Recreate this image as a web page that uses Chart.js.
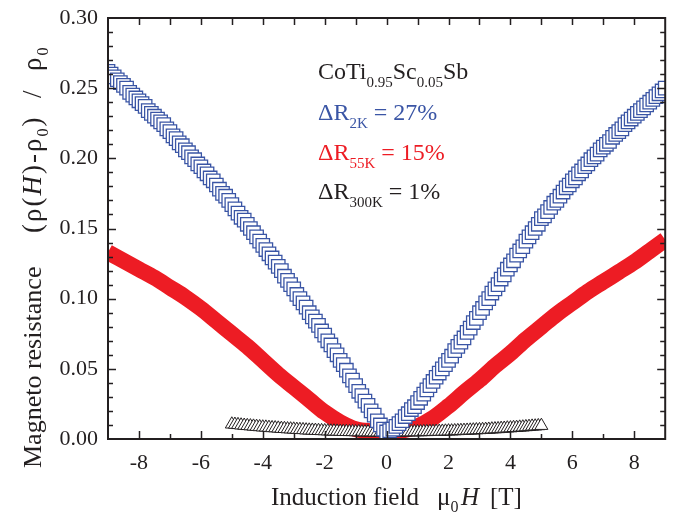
<!DOCTYPE html>
<html>
<head>
<meta charset="utf-8">
<script src="https://cdn.jsdelivr.net/npm/chart.js@4"></script>
<style>
  html, body { margin: 0; padding: 0; background: #fff; }
  canvas { display: block; }
</style>
</head>
<body>
<canvas id="chart" width="676" height="515"></canvas>
<script>
// field values [T] and magnetoresistance
var fieldBlue = [-9,-8.9,-8.8,-8.7,-8.6,-8.5,-8.4,-8.3,-8.2,-8.1,-8,-7.9,-7.8,-7.7,-7.6,-7.5,-7.4,-7.3,-7.2,-7.1,
    -7,-6.9,-6.8,-6.7,-6.6,-6.5,-6.4,-6.3,-6.2,-6.1,-6,-5.9,-5.8,-5.7,-5.6,-5.5,-5.4,-5.3,-5.2,-5.1,
    -5,-4.9,-4.8,-4.7,-4.6,-4.5,-4.4,-4.3,-4.2,-4.1,-4,-3.9,-3.8,-3.7,-3.6,-3.5,-3.4,-3.3,-3.2,-3.1,
    -3,-2.9,-2.8,-2.7,-2.6,-2.5,-2.4,-2.3,-2.2,-2.1,-2,-1.9,-1.8,-1.7,-1.6,-1.5,-1.4,-1.3,-1.2,-1.1,
    -1,-0.9,-0.8,-0.7,-0.6,-0.5,-0.4,-0.3,-0.2,-0.1,0,
    0.1,0.2,0.3,0.4,0.5,0.6,0.7,0.8,0.9,1,1.1,1.2,1.3,1.4,1.5,1.6,1.7,1.8,1.9,2,
    2.1,2.2,2.3,2.4,2.5,2.6,2.7,2.8,2.9,3,3.1,3.2,3.3,3.4,3.5,3.6,3.7,3.8,3.9,4,
    4.1,4.2,4.3,4.4,4.5,4.6,4.7,4.8,4.9,5,5.1,5.2,5.3,5.4,5.5,5.6,5.7,5.8,5.9,6,
    6.1,6.2,6.3,6.4,6.5,6.6,6.7,6.8,6.9,7,7.1,7.2,7.3,7.4,7.5,7.6,7.7,7.8,7.9,8,
    8.1,8.2,8.3,8.4,8.5,8.6,8.7,8.8,8.9,9];
var mr2K = [0.262,0.260,0.258,0.256,0.254,0.252,0.250,0.247,0.245,0.243,0.241,0.239,0.237,0.234,0.232,0.230,0.228,0.226,0.224,0.221,
    0.219,0.216,0.214,0.211,0.209,0.206,0.204,0.201,0.199,0.196,0.194,0.191,0.189,0.186,0.184,0.181,0.178,0.175,0.173,0.170,
    0.167,0.164,0.161,0.158,0.156,0.153,0.150,0.147,0.144,0.141,0.138,0.135,0.132,0.129,0.126,0.123,0.120,0.116,0.113,0.110,
    0.107,0.103,0.100,0.097,0.094,0.090,0.087,0.084,0.081,0.077,0.074,0.070,0.067,0.063,0.060,0.056,0.053,0.049,0.045,0.042,
    0.038,0.034,0.031,0.027,0.024,0.020,0.017,0.013,0.010,0.007,0.005,
    0.006,0.007,0.009,0.011,0.013,0.016,0.018,0.021,0.023,0.026,0.029,0.032,0.035,0.038,0.041,0.044,0.047,0.050,0.053,0.056,
    0.059,0.063,0.066,0.069,0.072,0.076,0.079,0.083,0.086,0.090,0.093,0.097,0.100,0.104,0.107,0.110,0.114,0.117,0.121,0.124,
    0.127,0.131,0.134,0.137,0.141,0.144,0.147,0.150,0.153,0.157,0.159,0.162,0.165,0.168,0.170,0.173,0.176,0.179,0.181,0.184,
    0.186,0.189,0.191,0.194,0.196,0.199,0.201,0.203,0.206,0.208,0.210,0.212,0.215,0.217,0.219,0.221,0.224,0.226,0.228,0.230,
    0.232,0.234,0.236,0.238,0.240,0.242,0.244,0.246,0.248,0.250];

var fieldRed = [-9,-8.5,-8,-7.5,-7,-6.5,-6,-5.5,-5,-4.5,-4,-3.5,-3,-2.5,-2,-1.5,-1,-0.5,0,
    0.5,1,1.5,2,2.5,3,3.5,4,4.5,5,5.5,6,6.5,7,7.5,8,8.5,9];
var mr55K = [0.133,0.127,0.121,0.115,0.108,0.101,0.093,0.084,0.075,0.066,0.056,0.046,0.037,0.028,0.019,0.012,0.007,0.0055,0.005,
    0.006,0.009,0.015,0.0235,0.033,0.042,0.052,0.061,0.071,0.080,0.089,0.097,0.105,0.112,0.119,0.126,0.134,0.142];

var field300 = [-5,-4.9,-4.8,-4.7,-4.6,-4.5,-4.4,-4.3,-4.2,-4.1,-4,-3.9,-3.8,-3.7,-3.6,-3.5,-3.4,-3.3,-3.2,-3.1,
    -3,-2.9,-2.8,-2.7,-2.6,-2.5,-2.4,-2.3,-2.2,-2.1,-2,-1.9,-1.8,-1.7,-1.6,-1.5,-1.4,-1.3,-1.2,-1.1,
    -1,-0.9,-0.8,-0.7,-0.6,-0.5,-0.4,-0.3,-0.2,-0.1,0,
    0.1,0.2,0.3,0.4,0.5,0.6,0.7,0.8,0.9,1,1.1,1.2,1.3,1.4,1.5,1.6,1.7,1.8,1.9,2,
    2.1,2.2,2.3,2.4,2.5,2.6,2.7,2.8,2.9,3,3.1,3.2,3.3,3.4,3.5,3.6,3.7,3.8,3.9,4,
    4.1,4.2,4.3,4.4,4.5,4.6,4.7,4.8,4.9,5];
var mr300K = [0.0105,0.0103,0.0101,0.0098,0.0096,0.0094,0.0092,0.0090,0.0088,0.0086,
    0.0084,0.0083,0.0081,0.0079,0.0078,0.0076,0.0074,0.0073,0.0071,0.0070,
    0.0069,0.0067,0.0066,0.0065,0.0063,0.0062,0.0061,0.0060,0.0059,0.0058,
    0.0057,0.0056,0.0055,0.0055,0.0054,0.0053,0.0052,0.0052,0.0051,0.0051,
    0.0050,0.0050,0.0049,0.0049,0.0049,0.0049,0.0048,0.0048,0.0048,0.0048,0.0048,
    0.0048,0.0048,0.0048,0.0048,0.0048,0.0049,0.0049,0.0049,0.0050,0.0050,
    0.0050,0.0051,0.0051,0.0052,0.0052,0.0053,0.0053,0.0054,0.0055,0.0056,
    0.0056,0.0057,0.0058,0.0059,0.0060,0.0061,0.0062,0.0063,0.0064,0.0065,
    0.0066,0.0067,0.0068,0.0070,0.0071,0.0072,0.0074,0.0075,0.0077,0.0078,
    0.0080,0.0081,0.0083,0.0084,0.0086,0.0088,0.0090,0.0091,0.0093,0.0095];

var xTicks = [-8, -6, -4, -2, 0, 2, 4, 6, 8];
var yTicks = [0, 0.05, 0.10, 0.15, 0.20, 0.25, 0.30];

var INK = '#231f20';
var BLUE = '#3a55a5';
var RED = '#ed1c24';
var SERIF = '"Liberation Serif", "Times New Roman", serif';

function pairs(xs, ys) {
    return xs.map(function(x, i) { return {x: x, y: ys[i]}; });
}

// draw text pieces (normal / subscript / italic) along one baseline, optional extra gap per glyph
function richText(ctx, parts, x, y, size, subSize, subDrop, gap) {
    gap = gap || 0;
    for (let p of parts) {
        ctx.font = (p.it ? 'italic ' : '') + (p.sub ? subSize : size) + 'px ' + SERIF;
        if (!gap) {
            ctx.fillText(p.t, x, y + (p.sub ? subDrop : 0));
            x += ctx.measureText(p.t).width;
            continue;
        }
        for (let ch of p.t) {
            ctx.fillText(ch, x, y + (p.sub ? subDrop : 0));
            x += ctx.measureText(ch).width + gap;
        }
    }
    return x;
}

var framePlugin = {
    id: 'frame',
    afterDatasetsDraw: function(chart) {
        const ctx = chart.ctx;
        const ca = chart.chartArea;
        const xs = chart.scales.x, ys = chart.scales.y;
        ctx.save();
        ctx.strokeStyle = INK;
        ctx.lineWidth = 1.5;
        ctx.beginPath();
        // inward ticks, bottom / top
        for (let k = -8; k <= 8; k++) {
            const px = Math.round(xs.getPixelForValue(k)) + 0.5;
            const len = (k % 2 === 0) ? 8 : 5;
            ctx.moveTo(px, ca.bottom); ctx.lineTo(px, ca.bottom - len);
            ctx.moveTo(px, ca.top); ctx.lineTo(px, ca.top + 7);
        }
        // inward ticks, left / right
        for (let k = 1; k < 30; k++) {
            const py = Math.round(ys.getPixelForValue(k / 100)) + 0.5;
            const len = (k % 5 === 0) ? 8 : 5;
            ctx.moveTo(ca.left, py); ctx.lineTo(ca.left + len, py);
            ctx.moveTo(ca.right, py); ctx.lineTo(ca.right - len, py);
        }
        ctx.stroke();
        ctx.lineWidth = 2;
        ctx.strokeRect(ca.left, ca.top, ca.right - ca.left, ca.bottom - ca.top);

        ctx.fillStyle = INK;
        ctx.textBaseline = 'alphabetic';
        ctx.textAlign = 'left';

        // x title
        richText(ctx, [{t: 'Induction field'}], 271, 505, 25, 16, 7);
        richText(ctx, [{t: '\u03bc'}, {t: '0', sub: true}], 437, 505, 25, 16, 7);
        richText(ctx, [{t: 'H', it: true}], 461, 505, 25, 16, 7);
        richText(ctx, [{t: '[T]'}], 490, 505, 25, 16, 7);

        // y title, rotated (local x runs upward from the canvas bottom)
        ctx.save();
        ctx.translate(41, 515);
        ctx.rotate(-Math.PI / 2);
        richText(ctx, [{t: 'Magneto resistance'}], 47, 0, 26, 16, 7);
        richText(ctx, [{t: '(\u03c1('}, {t: 'H', it: true}, {t: ')-\u03c1'}, {t: '0', sub: true},
            {t: ')  /  \u03c1'}, {t: '0', sub: true}], 282, 0, 27, 16, 7, 2);
        ctx.restore();

        // sample and gain labels
        const lines = [
            {c: INK, y: 79, parts: [{t: 'CoTi'}, {t: '0.95', sub: true}, {t: 'Sc'}, {t: '0.05', sub: true}, {t: 'Sb'}]},
            {c: BLUE, y: 120, parts: [{t: '\u0394R'}, {t: '2K', sub: true}, {t: ' = 27%'}]},
            {c: RED, y: 160, parts: [{t: '\u0394R'}, {t: '55K', sub: true}, {t: ' = 15%'}]},
            {c: INK, y: 199, parts: [{t: '\u0394R'}, {t: '300K', sub: true}, {t: ' = 1%'}]}
        ];
        for (let ln of lines) {
            ctx.fillStyle = ln.c;
            richText(ctx, ln.parts, 318, ln.y, 24, 15, 8);
        }
        ctx.restore();
    }
};

const ctx = document.getElementById('chart').getContext('2d');
const myChart = new Chart(ctx, {
    type: 'scatter',
    data: {
        datasets: [{
            label: '2 K',
            data: pairs(fieldBlue, mr2K),
            pointStyle: 'rect',
            pointRadius: 9.5,
            borderColor: BLUE,
            backgroundColor: '#ffffff',
            borderWidth: 1.3,
            clip: 0,
        }, {
            label: '300 K',
            data: pairs(field300, mr300K),
            pointStyle: 'triangle',
            pointRadius: 7.5,
            borderColor: INK,
            backgroundColor: '#ffffff',
            borderWidth: 1,
            clip: 0,
        }, {
            label: '55 K',
            data: pairs(fieldRed, mr55K),
            showLine: true,
            borderColor: RED,
            backgroundColor: RED,
            borderWidth: 16,
            borderJoinStyle: 'round',
            cubicInterpolationMode: 'monotone',
            pointRadius: 0,
            clip: 0,
        }],
    },
    options: {
        responsive: false,
        animation: false,
        devicePixelRatio: 1,
        layout: {
            padding: {top: 18, right: 9, left: 0, bottom: 0},
        },
        plugins: {
            legend: {display: false},
            tooltip: {enabled: false},
        },
        scales: {
            x: {
                type: 'linear',
                min: -9,
                max: 9,
                grid: {display: false, drawTicks: false},
                border: {display: false},
                afterBuildTicks: function(s) { s.ticks = xTicks.map(function(v) { return {value: v}; }); },
                afterFit: function(s) { s.height = 76; s.paddingLeft = 0; s.paddingRight = 0; },
                ticks: {
                    color: INK,
                    font: {family: SERIF, size: 22},
                    padding: 11,
                    maxRotation: 0,
                    autoSkip: false,
                    callback: function(v) { return String(v); },
                },
            },
            y: {
                type: 'linear',
                min: 0,
                max: 0.30,
                grid: {display: false, drawTicks: false},
                border: {display: false},
                afterBuildTicks: function(s) { s.ticks = yTicks.map(function(v) { return {value: v}; }); },
                afterFit: function(s) { s.width = 108; s.paddingTop = 0; s.paddingBottom = 0; },
                ticks: {
                    color: INK,
                    font: {family: SERIF, size: 22},
                    padding: 10,
                    autoSkip: false,
                    callback: function(v) { return v.toFixed(2); },
                },
            },
        },
    },
    plugins: [framePlugin],
});
</script>
</body>
</html>
